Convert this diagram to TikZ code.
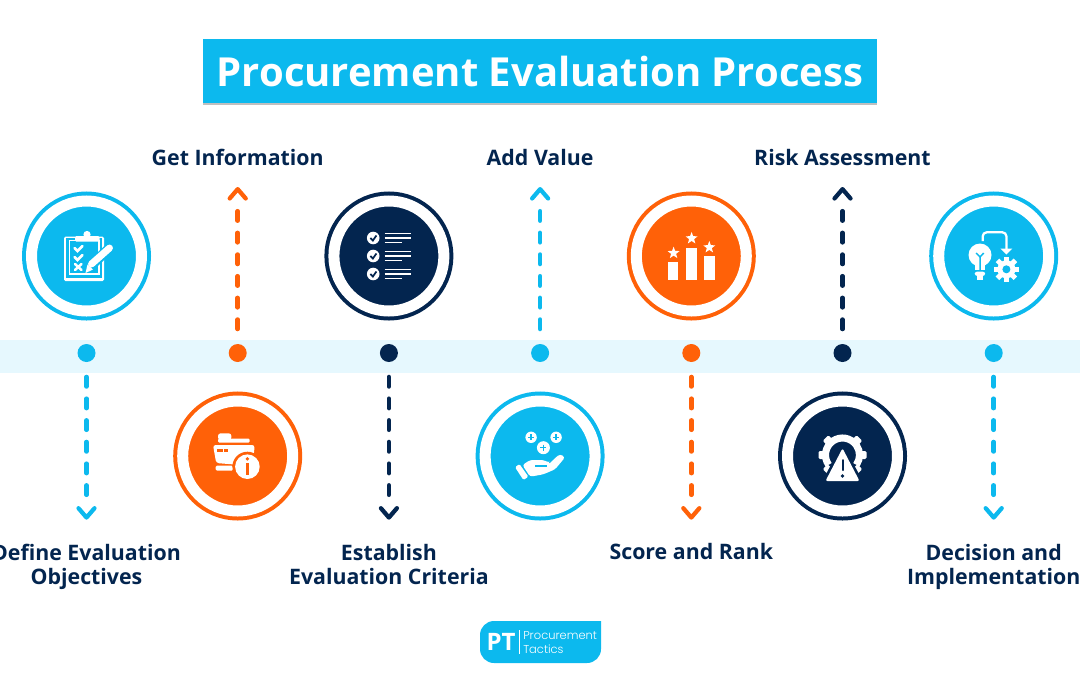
\documentclass[tikz,border=0pt]{standalone}
\usepackage{fontspec}
\setmainfont{Open Sans}
\newfontfamily\logofont{Poppins}[UprightFont=* Light]
\usetikzlibrary{arrows.meta,shapes.geometric,shadows,positioning}
\definecolor{skyc}{HTML}{0CB9EE}
\definecolor{orangec}{HTML}{FF6108}
\definecolor{navyc}{HTML}{03254F}
\definecolor{bandc}{HTML}{E6F8FE}
\tikzstyle{dot}   =[circle, minimum size=13.5pt, inner sep=0pt, outer sep=0pt]
\tikzstyle{badge} =[circle, minimum size=82.5pt, inner sep=0pt, outer sep=0pt,
                    line width=3pt, double=white, double distance=8.25pt]
\tikzstyle{flow}  =[line width=3.4pt, line cap=round, shorten <=11.25pt,
                    dash pattern=on 7.1pt off 9.15pt on 7.1pt off 9.15pt on 7.1pt off 9.15pt
                                 on 7.1pt off 9.15pt on 7.1pt off 9.15pt on 7.1pt off 60pt,
                    -{Straight Barb[length=7pt, width=12pt, line width=3.2pt, round]}]
\tikzstyle{step label}=[font=\fontsize{16}{18}\selectfont\bfseries, text=navyc,
                    align=center, inner sep=0pt]
\tikzstyle{icon}  =[fill=white, draw=none]
\tikzstyle{iconline}=[draw=white, line width=1.9pt, line cap=round]
\begin{document}
\begin{tikzpicture}[x=0.75pt, y=-0.75pt, node distance=113.4pt, on grid]
    \useasboundingbox (0,0) rectangle (1080,675);
    \fill[bandc] (0,340) rectangle (1080,373);
    % title
    \node (title) [fill=skyc, minimum width=505.5pt, minimum height=48pt, inner sep=0pt,
        text=white, font=\fontsize{30}{36}\selectfont\bfseries,
        drop shadow={shadow xshift=0pt, shadow yshift=-1.5pt, opacity=.5}]
        at (540,71) {Procurement Evaluation Process};
    % dots on the band
    \node (d1) [dot, fill=skyc] at (86.5,353) {};
    \node (d2) [dot, fill=orangec, right= of d1] {};
    \node (d3) [dot, fill=navyc, right= of d2] {};
    \node (d4) [dot, fill=skyc, right= of d3] {};
    \node (d5) [dot, fill=orangec, right= of d4] {};
    \node (d6) [dot, fill=navyc, right= of d5] {};
    \node (d7) [dot, fill=skyc, right= of d6] {};
    % badges
    \node (b1) [badge, fill=skyc, draw=skyc, above=72.75pt of d1] {};
    \node (b2) [badge, fill=orangec, draw=orangec, below=77.25pt of d2] {};
    \node (b3) [badge, fill=navyc, draw=navyc, above=72.75pt of d3] {};
    \node (b4) [badge, fill=skyc, draw=skyc, below=77.25pt of d4] {};
    \node (b5) [badge, fill=orangec, draw=orangec, above=72.75pt of d5] {};
    \node (b6) [badge, fill=navyc, draw=navyc, below=77.25pt of d6] {};
    \node (b7) [badge, fill=skyc, draw=skyc, above=72.75pt of d7] {};
    % arrow tips
    \coordinate [below=125pt of d1] (t1);
    \coordinate [above=124.5pt of d2] (t2);
    \coordinate [below=125pt of d3] (t3);
    \coordinate [above=124.5pt of d4] (t4);
    \coordinate [below=125pt of d5] (t5);
    \coordinate [above=124.5pt of d6] (t6);
    \coordinate [below=125pt of d7] (t7);
    \draw[flow, skyc] (d1) -- (t1);
    \draw[flow, orangec] (d2) -- (t2);
    \draw[flow, navyc] (d3) -- (t3);
    \draw[flow, skyc] (d4) -- (t4);
    \draw[flow, orangec] (d5) -- (t5);
    \draw[flow, navyc] (d6) -- (t6);
    \draw[flow, skyc] (d7) -- (t7);
    % labels
    \node (l2) [step label, above=147pt of d2] {Get Information};
    \node (l4) [step label, above=147pt of d4] {Add Value};
    \node (l6) [step label, above=147pt of d6] {Risk Assessment};
    \node (l1) [step label, below=160.5pt of d1] {Define Evaluation\\Objectives};
    \node (l3) [step label, below=158.25pt of d3] {Establish\\Evaluation Criteria};
    \node (l5) [step label, below=149pt of d5] {Score and Rank};
    \node (l7) [step label, below=160.5pt of d7] {Decision and\\Implementation};
    % clipboard
    \begin{scope}[shift={(b1.center)}]
        \fill[icon, rounded corners=1pt] (-22.5,-19.3) rectangle (17.5,25);
        \fill[skyc] (-20.2,-17.7) rectangle (15,21.5);
        \draw[white, line width=1pt] (-17.2,-15.5) rectangle (12.5,18);
        \fill[icon, rounded corners=1pt] (-11.5,-20) rectangle (13,-14.3);
        \fill[icon] (0.5,-21.5) circle (3.6);
        \draw[iconline] (-12,-8) -- (-9,-5) -- (-4,-10);
        \draw[iconline] (-12,1) -- (-9,4) -- (-4,-1);
        \draw[iconline] (-11.5,8) -- (-5,14) (-5,8) -- (-11.5,14);
        \draw[skyc, line width=7.5pt] (2,12) -- (23,-8);
        \draw[white, line width=5.2pt, line cap=round] (5,8) -- (23,-8);
        \fill[icon] (-1,17) -- (1,8.5) -- (6.5,13.5) -- cycle;
    \end{scope}
    % checklist
    \begin{scope}[shift={(b3.center)}]
        \foreach \y in {-18,0,18} {
            \fill[icon] (-15.7,\y) circle (6.3);
            \draw[navyc, line width=1.3pt] (-18.5,\y) -- (-16,{\y+2.5}) -- (-12.5,{\y-2.5});
            \draw[iconline, line width=1.1pt, line cap=butt] (-4.3,{\y-4.7}) -- (22,{\y-4.7});
            \draw[iconline, line width=1.1pt, line cap=butt] (-4.3,\y) -- (22,\y);
            \draw[iconline, line width=1.1pt, line cap=butt] (-4.3,{\y+4.7}) -- (13.3,{\y+4.7});
        }
    \end{scope}
    % podium
    \begin{scope}[shift={(b5.center)}]
        \fill[icon] (-23.7,6.3) rectangle (-13,24);
        \fill[icon] (-5,-8.3) rectangle (5.7,24);
        \fill[icon] (13,0) rectangle (24,24);
        \node (s1) [star, star points=5, star point ratio=2.4, icon, minimum size=9.5pt, inner sep=0pt] at (-17.7,-3) {};
        \node (s2) [star, star points=5, star point ratio=2.4, icon, minimum size=9.5pt, inner sep=0pt] at (0.3,-17.7) {};
        \node (s3) [star, star points=5, star point ratio=2.4, icon, minimum size=9.5pt, inner sep=0pt] at (18,-8.7) {};
    \end{scope}
    % bulb and gear
    \begin{scope}[shift={(b7.center)}]
        \fill[icon] (-13.7,-1) circle (11.5);
        \fill[icon] (-19,6) rectangle (-8.5,13.5);
        \fill[icon, rounded corners=2pt] (-19,15.5) rectangle (-8.5,20);
        \fill[icon] (-17,20) rectangle (-10.5,23.8);
        \draw[skyc, line width=1.1pt] (-13.7,14) -- (-13.7,1) (-17.5,-3) -- (-13.7,1) -- (-10,-3);
        \draw[iconline, line width=1.7pt, rounded corners=3pt, line cap=butt] (-11,-15) -- (-11,-23.7) -- (12.7,-23.7) -- (12.7,-6);
        \fill[icon] (6.7,-7.5) -- (18.7,-7.5) -- (12.7,-1.5) -- cycle;
        \fill[icon] (12.7,13.3) circle (9);
        \foreach \a in {0,45,...,315} {
            \fill[icon, rotate around={\a:(12.7,13.3)}] (10.2,0.6) rectangle (15.2,6);
        }
        \fill[skyc] (12.7,13.3) circle (4);
    \end{scope}
    % printer with info mark
    \begin{scope}[shift={(b2.center)}]
        \fill[icon, rounded corners=2pt] (-19.7,-22.7) rectangle (-6.3,-16);
        \fill[icon, rounded corners=1pt] (-19.7,-17.5) rectangle (12,-13.3);
        \fill[icon, rounded corners=2pt] (-24.7,-11) -- (17,-11) -- (15,10) -- (-21.5,7) -- cycle;
        \fill[orangec] (-20.5,-6.8) rectangle (-14.5,-4);
        \fill[orangec] (-13.5,-6.8) rectangle (-9.5,-4);
        \fill[icon, rounded corners=1pt] (-22,9.7) rectangle (-4.7,14.7);
        \fill[orangec] (9.7,10.7) circle (15);
        \fill[icon] (9.7,10.7) circle (12.3);
        \fill[orangec] (9.7,2.8) circle (1.9);
        \fill[orangec] (8,6.5) rectangle (11.4,18.5);
    \end{scope}
    % hand with plus coins
    \begin{scope}[shift={(b4.center)}]
        \foreach \x/\y/\r in {-9/-18.7/5.7, 16/-18.7/5.7, 3.3/-8.3/6.5} {
            \fill[icon] (\x,\y) circle (\r);
            \draw[skyc, line width=1.1pt] ({\x-3},\y) -- ({\x+3},\y) (\x,{\y-3}) -- (\x,{\y+3});
        }
        \fill[icon, rounded corners=1pt] (-25,11.3) -- (-20.7,8) -- (-11.7,20.7) -- (-16.7,24) -- cycle;
        \fill[icon, rounded corners=2pt] (-17.7,9) -- (-10,4) -- (3.3,4) -- (9.3,6.7) -- (20,-2)
            -- (25,1.3) -- (15,13.3) -- (3.3,18.3) -- (-10,20.7) -- cycle;
        \draw[skyc, line width=0.9pt] (-5,10) -- (7.3,10);
        \draw[skyc, line width=0.8pt] (9.3,6.7) -- (14,2);
    \end{scope}
    % gear with warning sign
    \begin{scope}[shift={(b6.center)}, yshift=0.75pt]
        \draw[white, line width=5.3pt] (145:17) arc (145:395:17);
        \foreach \a in {135,180,225,270,315,360,405} {
            \fill[icon, rotate=\a, rounded corners=1pt] (17,-4) rectangle (24,4);
        }
        \fill[navyc] (0,-11) -- (-22,29) -- (22,29) -- cycle;
        \fill[icon, rounded corners=1.5pt] (0,-6.7) -- (-17,26) -- (17,26) -- cycle;
        \draw[navyc, line width=1.5pt, line cap=round] (0,5) -- (0,15);
        \fill[navyc] (0,21) circle (1.9);
    \end{scope}
    % logo
    \fill[skyc] (494,621) -- (601,621) -- (601,649) arc (0:90:14) -- (494,663) arc (90:180:14) -- (480,635) arc (180:270:14) -- cycle;
    \node (pt) [text=white, inner sep=0pt, font=\fontsize{18}{20}\selectfont\bfseries] at (501,642) {PT};
    \node (brand) [text=white, inner sep=0pt, anchor=west, align=left,
        font=\logofont\fontsize{8.6}{10.5}\selectfont] at (523,643) {Procurement\\Tactics};
    \draw[white, line width=0.4pt] (519,630) -- (519,654);
\end{tikzpicture}
\end{document}
